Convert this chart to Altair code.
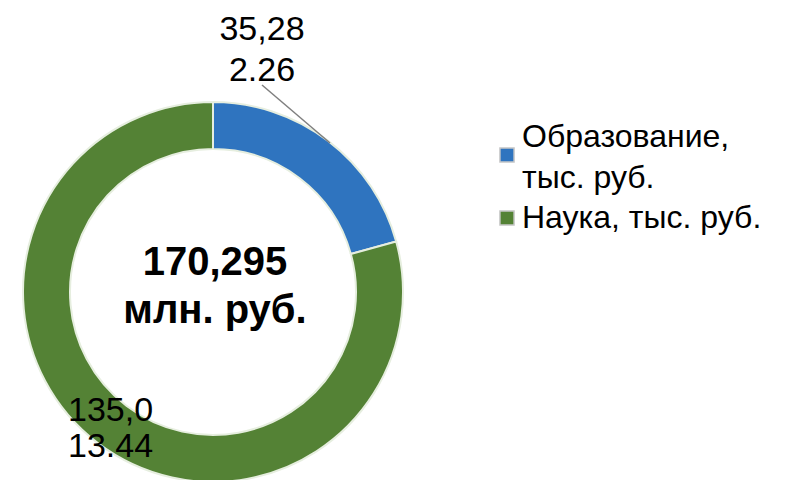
import altair as alt
import pandas as pd

categories = ["Образование, тыс. руб.", "Наука, тыс. руб."]
values = [35282.26, 135013.44]
label_texts = ["35,28\n2.26", "135,0\n13.44"]
legend_texts = ["Образование,\nтыс. руб.", "Наука, тыс. руб."]
order_idx = [0, 1]
center_lines = ["170,295", "млн. руб."]
colors = ["#2F74BF", "#548235"]

df = pd.DataFrame({"cat": categories, "value": values, "lbl": label_texts,
                   "leg": legend_texts, "ord": order_idx})

FONT = "Liberation Sans"
CX, CY = 205, 284

color_enc = alt.Color("cat:N", scale=alt.Scale(domain=categories, range=colors), legend=None)

base = alt.Chart(df)

arcs = base.mark_arc(
    x=CX, y=CY, radius=190, radius2=143, stroke="#e6eedf", strokeWidth=2
).encode(
    theta=alt.Theta("value:Q", stack=True),
    order=alt.Order("ord:Q"),
    color=color_enc,
)

top_label = base.transform_filter(alt.datum.ord == 0).mark_text(
    x=254, y=32, align="center", baseline="alphabetic", font=FONT, fontSize=34,
    lineBreak="\n", lineHeight=41, color="#000000"
).encode(text="lbl:N")

bottom_label = base.transform_filter(alt.datum.ord == 1).mark_text(
    x=60, y=413, align="left", baseline="alphabetic", font=FONT, fontSize=34,
    lineBreak="\n", lineHeight=36, color="#000000"
).encode(text="lbl:N")

leader = alt.Chart(pd.DataFrame({"a": [0]})).mark_rule(color="#7f7f7f", strokeWidth=1.5).encode(
    x=alt.value(254), y=alt.value(77), x2=alt.value(322), y2=alt.value(135)
)

center_df = pd.DataFrame({"t": ["\n".join(center_lines)]})
center = alt.Chart(center_df).mark_text(
    x=207, y=267, align="center", baseline="alphabetic", font=FONT, fontSize=40,
    fontWeight="bold", lineBreak="\n", lineHeight=48, color="#000000"
).encode(text="t:N")

# legend (custom)
leg_sq1 = base.transform_filter(alt.datum.ord == 0).mark_square(
    x=499, y=147, size=200, opacity=1, stroke="#c8c8c8", strokeWidth=1.5
).encode(color=color_enc)
leg_sq2 = base.transform_filter(alt.datum.ord == 1).mark_square(
    x=499, y=210, size=200, opacity=1, stroke="#c8c8c8", strokeWidth=1.5
).encode(color=color_enc)
leg_t1 = base.transform_filter(alt.datum.ord == 0).mark_text(
    x=514, y=139, align="left", baseline="alphabetic", font=FONT, fontSize=32,
    lineBreak="\n", lineHeight=41, color="#000000"
).encode(text="leg:N")
leg_t2 = base.transform_filter(alt.datum.ord == 1).mark_text(
    x=514, y=220, align="left", baseline="alphabetic", font=FONT, fontSize=32,
    lineBreak="\n", lineHeight=41, color="#000000"
).encode(text="leg:N")

chart = alt.layer(arcs, leader, top_label, bottom_label, center,
                  leg_sq1, leg_sq2, leg_t1, leg_t2).properties(
    width=787, height=472, autosize=alt.AutoSizeParams(type="none"), padding=0
).configure_view(stroke=None)

chart.save("out.html", embed_options={"renderer": "svg", "actions": False})
